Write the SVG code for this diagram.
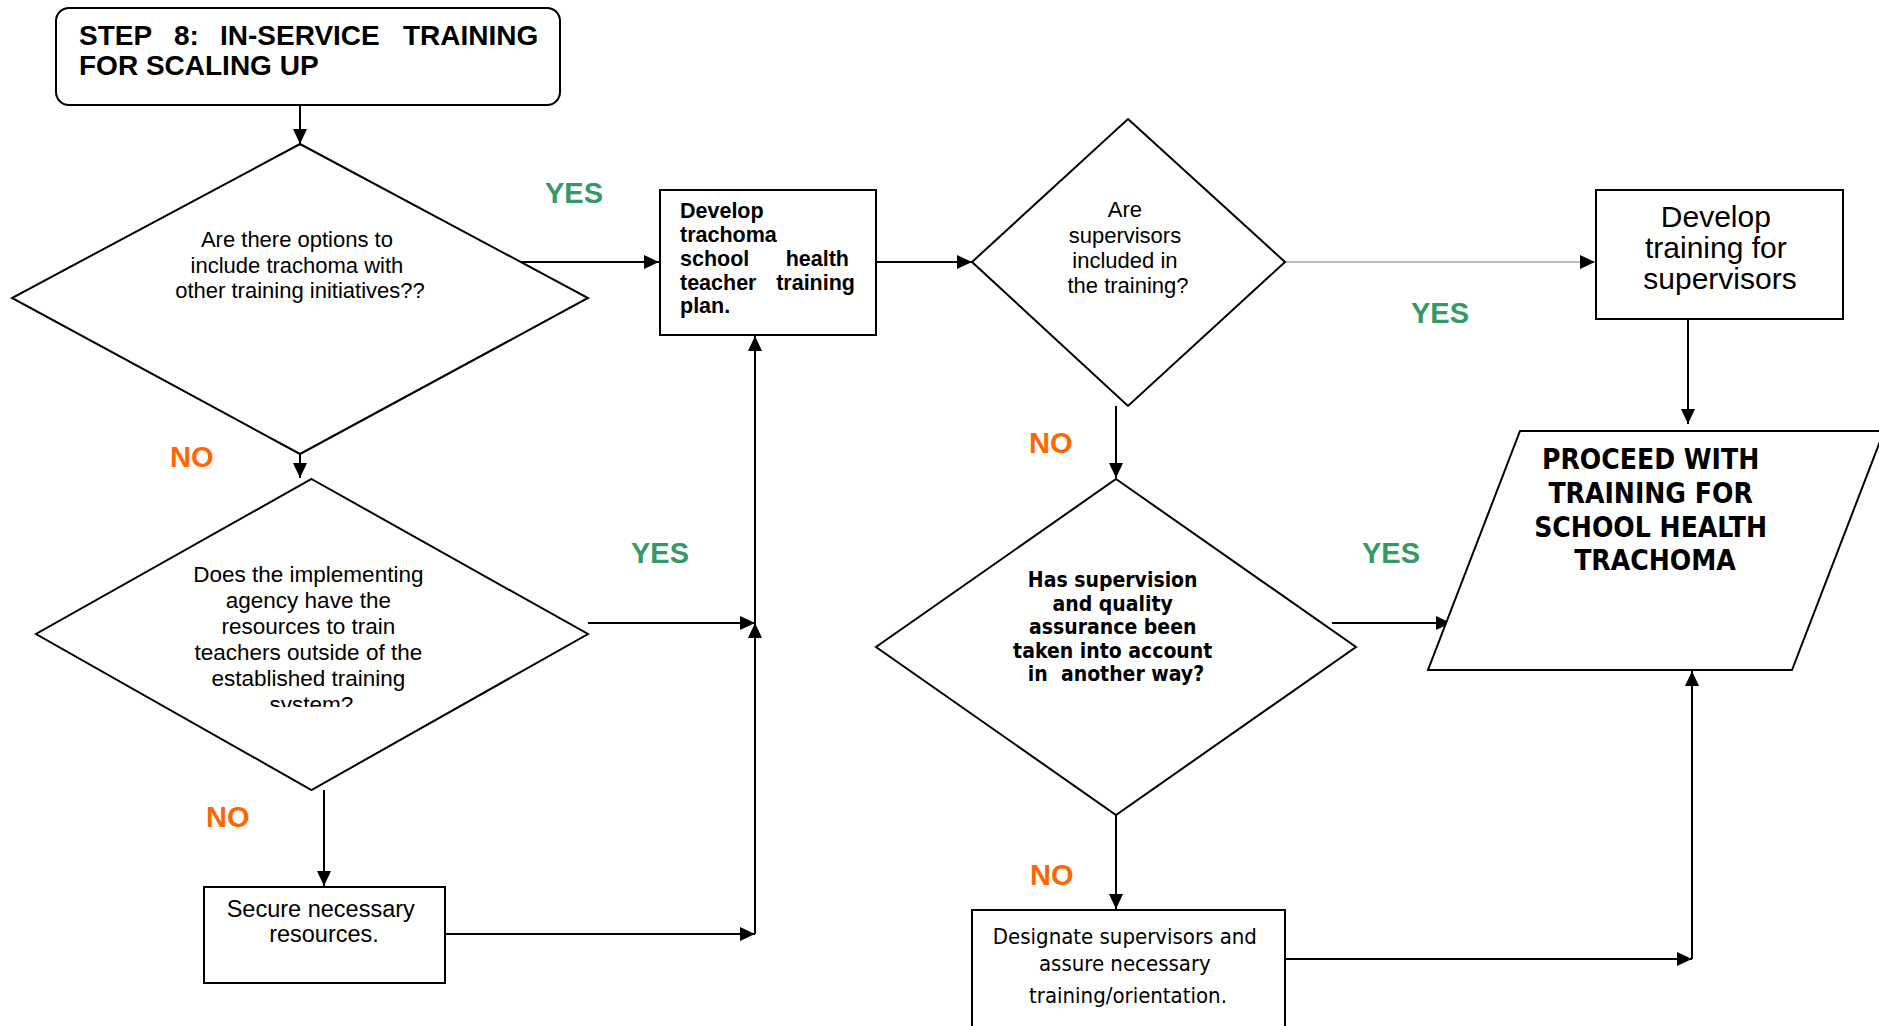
<svg xmlns="http://www.w3.org/2000/svg" width="1879" height="1026" viewBox="0 0 1879 1026">
  <defs>
    <marker id="arrow" markerUnits="userSpaceOnUse" markerWidth="15" markerHeight="14" refX="15" refY="7" orient="auto">
      <path d="M0,0 L15,7 L0,14 z" fill="#000"/>
    </marker>
    <clipPath id="clip-d2">
      <rect x="100" y="540" width="430" height="167"/>
    </clipPath>
    <style>
      .shape { fill: #fff; stroke: #000; stroke-width: 2; }
      .conn { fill: none; stroke: #000; stroke-width: 2; }
      .thin { fill: none; stroke: #777; stroke-width: 1.2; }
      .arial { font-family: "Liberation Sans", Arial, sans-serif; fill: #000; }
      .cond { font-family: "DejaVu Sans Condensed", "DejaVu Sans", sans-serif; fill: #000; }
      .b { font-weight: bold; }
      .mid { text-anchor: middle; }
      .yes { font-family: "Liberation Sans", Arial, sans-serif; font-weight: bold; font-size: 29px; fill: #339966; }
      .no { font-family: "Liberation Sans", Arial, sans-serif; font-weight: bold; font-size: 29px; fill: #ff6600; }
    </style>
  </defs>
  <rect width="1879" height="1026" fill="#fff"/>

  <!-- connectors -->
  <g id="connectors">
    <path class="conn" d="M300,105 L300,144" marker-end="url(#arrow)"/>
    <path class="conn" d="M516,262 L659,262" marker-end="url(#arrow)"/>
    <path class="conn" d="M876,262 L972,262" marker-end="url(#arrow)"/>
    <path class="thin" d="M1285,262 L1595,262" marker-end="url(#arrow)"/>
    <path class="conn" d="M1688,319 L1688,424" marker-end="url(#arrow)"/>
    <path class="conn" d="M300,454 L300,478" marker-end="url(#arrow)"/>
    <path class="conn" d="M588,623 L755,623" marker-end="url(#arrow)"/>
    <path class="conn" d="M324,790 L324,886" marker-end="url(#arrow)"/>
    <path class="conn" d="M445,934 L755,934" marker-end="url(#arrow)"/>
    <path class="conn" d="M755,934 L755,623" marker-end="url(#arrow)"/>
    <path class="conn" d="M755,623 L755,336" marker-end="url(#arrow)"/>
    <path class="conn" d="M1116,406 L1116,478" marker-end="url(#arrow)"/>
    <path class="conn" d="M1332,623 L1451,623" marker-end="url(#arrow)"/>
    <path class="conn" d="M1116,815 L1116,909" marker-end="url(#arrow)"/>
    <path class="conn" d="M1285,959 L1692,959" marker-end="url(#arrow)"/>
    <path class="conn" d="M1692,959 L1692,671" marker-end="url(#arrow)"/>
  </g>

  <!-- branch labels -->
  <g id="labels">
    <text class="yes" x="545" y="203">YES</text>
    <text class="no" x="170" y="467">NO</text>
    <text class="yes" x="1411" y="323">YES</text>
    <text class="no" x="1029" y="453">NO</text>
    <text class="yes" x="631" y="563">YES</text>
    <text class="no" x="206" y="827">NO</text>
    <text class="yes" x="1362" y="563">YES</text>
    <text class="no" x="1030" y="885">NO</text>
  </g>

  <g id="title">
    <rect class="shape" x="56" y="8" width="504" height="97" rx="13"/>
    <text class="arial b" font-size="28">
      <tspan x="79" y="45">STEP</tspan><tspan x="174" y="45">8:</tspan><tspan x="220" y="45">IN-SERVICE</tspan><tspan x="403" y="45">TRAINING</tspan>
      <tspan x="79" y="75">FOR SCALING UP</tspan>
    </text>
  </g>

  <g id="decision-options">
    <polygon class="shape" points="300,144 588,298 300,454 12,298"/>
    <text class="arial mid" font-size="22">
      <tspan x="300" y="247">Are there options to</tspan>
      <tspan x="300" y="273">include trachoma with</tspan>
      <tspan x="300" y="298">other training initiatives??</tspan>
    </text>
  </g>

  <g id="teacher-plan">
    <rect class="shape" x="660" y="190" width="216" height="145"/>
    <text class="arial b" font-size="21.5">
      <tspan x="680" y="218">Develop</tspan>
      <tspan x="680" y="242">trachoma</tspan>
      <tspan x="680" y="266">school</tspan>
      <tspan x="680" y="290">teacher</tspan>
      <tspan x="680" y="313">plan.</tspan>
    </text>
    <text class="arial b" font-size="21.5" text-anchor="end">
      <tspan x="855" y="266">health</tspan>
      <tspan x="855" y="290">training</tspan>
    </text>
  </g>

  <g id="decision-supervisors">
    <polygon class="shape" points="1128,119 1285,262 1128,406 972,262"/>
    <text class="arial mid" font-size="22">
      <tspan x="1128" y="217">Are</tspan>
      <tspan x="1128" y="243">supervisors</tspan>
      <tspan x="1128" y="268">included in</tspan>
      <tspan x="1128" y="293">the training?</tspan>
    </text>
  </g>

  <g id="supervisor-training">
    <rect class="shape" x="1596" y="190" width="247" height="129"/>
    <text class="arial mid" font-size="30">
      <tspan x="1720" y="227">Develop</tspan>
      <tspan x="1720" y="258">training for</tspan>
      <tspan x="1720" y="289">supervisors</tspan>
    </text>
  </g>

  <g id="proceed">
    <polygon class="shape" points="1520,431 1884,431 1792,670 1428,670"/>
    <text class="cond b mid" font-size="28">
      <tspan x="1655" y="469">PROCEED WITH</tspan>
      <tspan x="1655" y="503">TRAINING FOR</tspan>
      <tspan x="1655" y="537">SCHOOL HEALTH</tspan>
      <tspan x="1655" y="570">TRACHOMA</tspan>
    </text>
  </g>

  <g id="decision-resources">
    <polygon class="shape" points="311.5,479 588,634 311.5,790 36,634"/>
    <text class="arial mid" font-size="22.5" clip-path="url(#clip-d2)">
      <tspan x="311.5" y="582">Does the implementing</tspan>
      <tspan x="311.5" y="608">agency have the</tspan>
      <tspan x="311.5" y="634">resources to train</tspan>
      <tspan x="311.5" y="660">teachers outside of the</tspan>
      <tspan x="311.5" y="686">established training</tspan>
      <tspan x="311.5" y="712">system?</tspan>
    </text>
  </g>

  <g id="secure-resources">
    <rect class="shape" x="204" y="887" width="241" height="96"/>
    <text class="arial mid" font-size="23.5">
      <tspan x="324" y="917">Secure necessary</tspan>
      <tspan x="324" y="942">resources.</tspan>
    </text>
  </g>

  <g id="decision-quality">
    <polygon class="shape" points="1116,479 1356,647 1116,815 876,647"/>
    <text class="cond b mid" font-size="21">
      <tspan x="1116" y="587">Has supervision</tspan>
      <tspan x="1116" y="610.5">and quality</tspan>
      <tspan x="1116" y="634">assurance been</tspan>
      <tspan x="1116" y="657.5">taken into account</tspan>
      <tspan x="1116" y="681">in&#160; another way?</tspan>
    </text>
  </g>

  <g id="designate-supervisors">
    <rect class="shape" x="972" y="910" width="313" height="140"/>
    <text class="cond mid" font-size="22">
      <tspan x="1128" y="944">Designate supervisors and</tspan>
      <tspan x="1128" y="971">assure necessary</tspan>
      <tspan x="1128" y="1003">training/orientation.</tspan>
    </text>
  </g>
</svg>
